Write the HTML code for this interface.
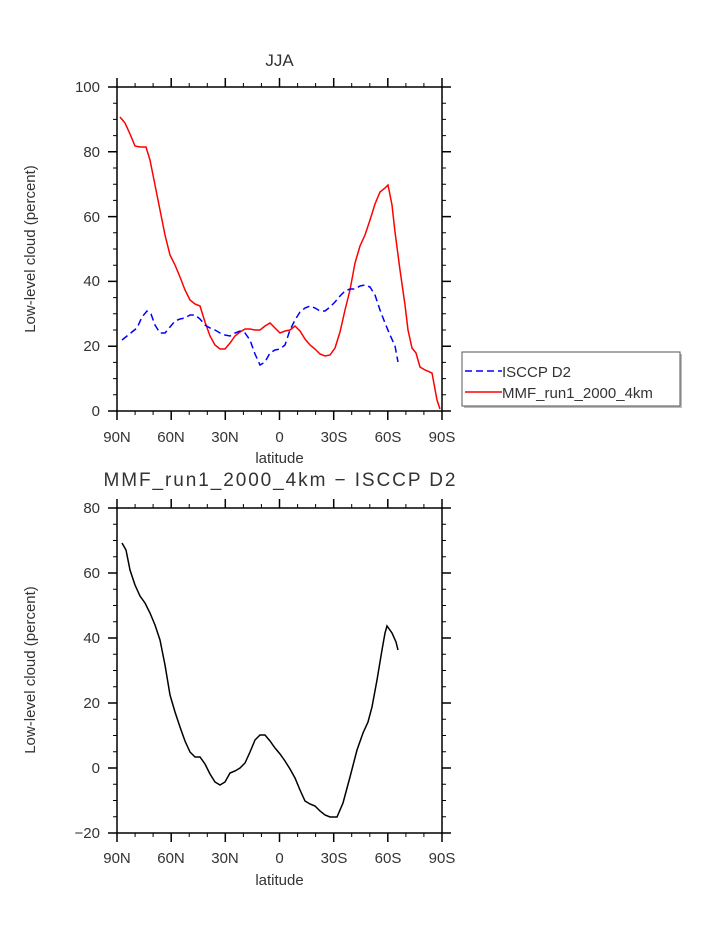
<!DOCTYPE html>
<html><head><meta charset="utf-8"><style>body{margin:0;background:#fff}svg{display:block}text{font-family:"Liberation Sans",sans-serif;fill:#333}</style></head><body>
<svg width="723" height="935" viewBox="0 0 723 935" xmlns="http://www.w3.org/2000/svg">
<g stroke="#000" stroke-width="1.5" fill="none">
<rect x="117" y="87" width="325" height="324"/>
<rect x="117" y="508" width="325" height="325"/>
<path d="M117,87v-9M171.2,87v-9M225.3,87v-9M279.5,87v-9M333.7,87v-9M387.8,87v-9M442,87v-9
M117,411v9M171.2,411v9M225.3,411v9M279.5,411v9M333.7,411v9M387.8,411v9M442,411v9
M117,508v-9M171.2,508v-9M225.3,508v-9M279.5,508v-9M333.7,508v-9M387.8,508v-9M442,508v-9
M117,833v9M171.2,833v9M225.3,833v9M279.5,833v9M333.7,833v9M387.8,833v9M442,833v9
M117,87h-9M117,151.8h-9M117,216.6h-9M117,281.4h-9M117,346.2h-9M117,411h-9
M442,87h9M442,151.8h9M442,216.6h9M442,281.4h9M442,346.2h9M442,411h9
M117,508h-9M117,573h-9M117,638h-9M117,703h-9M117,768h-9M117,833h-9
M442,508h9M442,573h9M442,638h9M442,703h9M442,768h9M442,833h9"/>
<path stroke-width="1" d="M135.1,87v-4M153.1,87v-4M189.2,87v-4M207.3,87v-4M243.4,87v-4M261.4,87v-4M297.6,87v-4M315.6,87v-4M351.7,87v-4M369.8,87v-4M405.9,87v-4M423.9,87v-4
M135.1,411v4M153.1,411v4M189.2,411v4M207.3,411v4M243.4,411v4M261.4,411v4M297.6,411v4M315.6,411v4M351.7,411v4M369.8,411v4M405.9,411v4M423.9,411v4
M135.1,508v-4M153.1,508v-4M189.2,508v-4M207.3,508v-4M243.4,508v-4M261.4,508v-4M297.6,508v-4M315.6,508v-4M351.7,508v-4M369.8,508v-4M405.9,508v-4M423.9,508v-4
M135.1,833v4M153.1,833v4M189.2,833v4M207.3,833v4M243.4,833v4M261.4,833v4M297.6,833v4M315.6,833v4M351.7,833v4M369.8,833v4M405.9,833v4M423.9,833v4
M117,103.2h-4M117,119.4h-4M117,135.6h-4M117,168h-4M117,184.2h-4M117,200.4h-4M117,232.8h-4M117,249h-4M117,265.2h-4M117,297.6h-4M117,313.8h-4M117,330h-4M117,362.4h-4M117,378.6h-4M117,394.8h-4
M442,103.2h4M442,119.4h4M442,135.6h4M442,168h4M442,184.2h4M442,200.4h4M442,232.8h4M442,249h4M442,265.2h4M442,297.6h4M442,313.8h4M442,330h4M442,362.4h4M442,378.6h4M442,394.8h4
M117,524.25h-4M117,540.5h-4M117,556.75h-4M117,589.25h-4M117,605.5h-4M117,621.75h-4M117,654.25h-4M117,670.5h-4M117,686.75h-4M117,719.25h-4M117,735.5h-4M117,751.75h-4M117,784.25h-4M117,800.5h-4M117,816.75h-4
M442,524.25h4M442,540.5h4M442,556.75h4M442,589.25h4M442,605.5h4M442,621.75h4M442,654.25h4M442,670.5h4M442,686.75h4M442,719.25h4M442,735.5h4M442,751.75h4M442,784.25h4M442,800.5h4M442,816.75h4"/>
</g>
<polyline fill="none" stroke="#f00" stroke-width="1.5" points="120,117 125,123 130,134 135,146 140,147 146,147 150,160 155,185 160,210 165,235 170,255 175,265 180,277 185,290 190,300 195,304 200,306 205,322 210,336 215,345 220,349 225,349 230,343 235,336 240,332 245,329 250,329 255,330 260,330 265,326 270,323 275,328 280,333 285,331 290,330 295,326 300,331 305,339 310,345 315,349 320,354 325,356 330,355 335,348 340,332 345,310 350,290 355,263 360,246 365,235 370,220 375,204 380,192 385,188 388,185 392,205 395,232 400,270 405,305 408,330 412,348 416,353 420,367 425,370 432,373 437,400 440,409"/>
<polyline fill="none" stroke="#00f" stroke-width="1.5" stroke-dasharray="7,4" points="122,340 127,336 132,332 137,328 142,317 147,311 151,314 155,325 160,333 165,333 170,327 175,321 180,319 185,318 190,315 195,315 200,319 205,325 210,328 215,330 220,333 225,335 230,336 235,333 240,331 245,333 250,340 255,354 260,365 265,362 270,353 275,350 280,349 285,345 290,330 295,320 300,312 305,308 310,306 315,308 320,311 325,311 330,307 335,302 340,296 345,291 350,289 355,289 360,286 365,285 370,287 375,295 380,310 385,323 390,335 395,346 398,362"/>
<polyline fill="none" stroke="#000" stroke-width="1.5" points="122,543 126,550 130,570 135,585 140,596 145,603 150,613 155,625 160,640 165,665 170,695 175,712 180,727 185,741 190,752 195,757 200,757 205,764 210,774 215,782 220,785 225,782 230,773 235,771 240,768 245,763 250,752 255,740 260,735 265,735 270,741 275,748 280,754 285,761 290,769 295,778 300,790 305,801 310,804 315,806 320,811 325,815 330,817 337,817 343,803 350,777 357,750 363,733 368,722 372,707 377,680 382,650 385,633 387,626 392,633 396,642 398,650"/>
<g font-size="15" text-anchor="end">
<text x="100" y="92">100</text><text x="100" y="157">80</text><text x="100" y="222">60</text><text x="100" y="286">40</text><text x="100" y="351">20</text><text x="100" y="416">0</text>
<text x="100" y="513">80</text><text x="100" y="578">60</text><text x="100" y="643">40</text><text x="100" y="708">20</text><text x="100" y="773">0</text><text x="100" y="838">−20</text>
</g>
<g font-size="15" text-anchor="middle">
<text x="117" y="442">90N</text><text x="171" y="442">60N</text><text x="225" y="442">30N</text><text x="279.5" y="442">0</text><text x="334" y="442">30S</text><text x="388" y="442">60S</text><text x="442" y="442">90S</text>
<text x="117" y="863">90N</text><text x="171" y="863">60N</text><text x="225" y="863">30N</text><text x="279.5" y="863">0</text><text x="334" y="863">30S</text><text x="388" y="863">60S</text><text x="442" y="863">90S</text>
<text x="279.5" y="463">latitude</text><text x="279.5" y="885">latitude</text>
<text x="279.5" y="66" font-size="17">JJA</text>
<text x="279.5" y="486" font-size="19" textLength="352">MMF_run1_2000_4km − ISCCP D2</text>
<text transform="translate(35,249) rotate(-90)">Low-level cloud (percent)</text>
<text transform="translate(35,670) rotate(-90)">Low-level cloud (percent)</text>
</g>
<rect x="464" y="354" width="218" height="54" fill="#bbb"/>
<rect x="462" y="352" width="218" height="54" fill="#fff" stroke="#555" stroke-width="1"/>
<line x1="465" y1="371" x2="502" y2="371" stroke="#00f" stroke-width="1.5" stroke-dasharray="7,4"/>
<line x1="465" y1="392" x2="502" y2="392" stroke="#f00" stroke-width="1.5"/>
<g font-size="15"><text x="502" y="377">ISCCP D2</text><text x="502" y="398">MMF_run1_2000_4km</text></g>
</svg>
</body></html>
